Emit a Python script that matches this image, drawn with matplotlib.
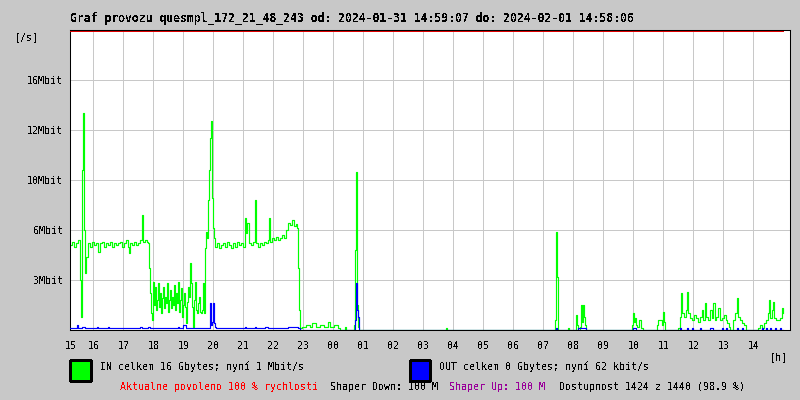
import numpy as np
import matplotlib
matplotlib.use("Agg")
import matplotlib.pyplot as plt
from matplotlib.patches import Rectangle

plt.rcParams['font.family'] = ['DejaVu Sans Mono']
plt.rcParams['text.antialiased'] = False

# ---------------- data ----------------
TITLE = "Graf provozu quesmpl_172_21_48_243 od: 2024-01-31 14:59:07 do: 2024-02-01 14:58:06"
SAMPLE_MIN = 2            # one sample every 2 minutes
START_MIN = 13.3          # first sample, minutes after 15:00

hour_labels = ["15", "16", "17", "18", "19", "20", "21", "22", "23", "00", "01", "02",
               "03", "04", "05", "06", "07", "08", "09", "10", "11", "12", "13", "14"]

y_ticks_mbit = [3, 6, 10, 12, 16]
y_tick_labels = ["3Mbit", "6Mbit", "10Mbit", "12Mbit", "16Mbit"]
# the chart's (non-linear) vertical scale: Mbit -> grid rows
scale_mbit = [0, 3, 6, 10, 12, 16, 20]
scale_rows = [0, 1, 2, 3, 4, 5, 6]

# IN traffic (green): sample index, Mbit/s
in_idx = [0, 2, 4, 6, 8, 10, 11, 12, 13, 14, 15, 16, 18, 20, 22, 24, 26, 28, 30, 32, 34, 36, 38,
          40, 42, 44, 46, 48, 50, 52, 54, 56, 58, 59, 60, 62, 64, 66, 68, 70, 72, 73, 75, 77, 78,
          79, 80,
          81, 82, 83, 84, 85, 86, 87, 88, 89, 90, 91, 92, 93, 94, 95, 96, 97, 98, 99, 100, 101,
          102, 103, 104, 105, 106, 107, 108, 109, 110, 111, 112, 113, 114, 115, 116, 117, 118,
          119, 120, 121, 122, 123, 124, 125, 126, 127, 128, 129, 130, 131, 132, 133, 134, 135,
          136, 137, 138, 139, 140, 141, 142, 143, 144, 145, 147, 149, 151, 153, 155, 157, 159,
          161, 163, 165, 167, 169, 171, 173, 175, 176, 177, 179, 181, 183, 185, 186, 188, 190,
          192, 194, 196, 198, 199, 200, 202, 204, 206, 208, 210, 212, 214, 216, 218, 220, 222,
          224, 226, 227, 228, 229, 230,
          232, 236, 240, 242, 246, 250, 254, 258, 260, 264, 268, 270, 275, 276, 284, 285, 286,
          287, 288, 289,
          376, 377, 485, 486, 487, 488, 498, 499, 506, 507, 508, 510, 511, 512, 513, 514, 515,
          516, 562, 563, 564, 565, 566, 567, 569, 571, 573, 587, 588, 590, 592, 593, 594, 595,
          608, 610, 611, 612, 614, 616, 617, 618, 620, 622, 624, 626, 628, 630, 632, 633, 635,
          636, 638, 640, 642, 643, 645, 646, 648, 650, 652, 654, 656, 657, 659, 660, 663, 665,
          667, 668, 670, 672, 674, 676, 688, 690, 692, 694, 696, 698, 699, 700, 702, 703, 704,
          706, 708, 710, 712, 713]
in_mbit = [5.1, 5.3, 5.0, 5.2, 5.4, 3.0, 0.8, 10.4, 13.4, 6.0, 3.4, 4.4, 5.2, 5.0, 5.3, 5.1, 5.2,
           4.7, 5.2, 5.3, 5.0, 5.2, 5.1, 5.3, 5.0, 5.2, 5.1, 5.2, 5.3, 5.0, 5.2, 5.4, 5.0, 4.6,
           5.2, 5.1, 5.3, 5.1, 5.2, 5.4, 7.2, 5.3, 5.4, 5.3, 5.2, 3.7, 2.2,
           1.0, 0.6, 2.9, 1.5, 2.6, 1.2, 1.8, 2.8, 1.4, 2.2, 1.0, 1.9, 2.6, 1.3, 2.0, 1.6, 2.8,
           1.1, 1.8, 2.4, 1.3, 2.0, 1.5, 2.7, 1.2, 2.2, 1.6, 2.9, 1.1, 1.8, 2.5, 0.8, 1.5, 2.2,
           1.4, 0.4, 1.7, 2.6, 2.0, 4.0, 2.8, 1.4, 0.2, 1.8, 2.9, 1.2, 1.0, 1.6, 2.0, 1.1, 1.0,
           1.2, 2.8, 1.0, 4.9,
           5.9, 5.5, 8.4, 10.4, 11.7, 12.7, 8.6, 6.2, 5.5, 5.0, 5.2, 4.9, 5.1, 5.2, 5.0, 5.3,
           5.1, 4.9, 5.2, 5.0, 5.3, 5.1, 5.2, 5.0, 7.0, 5.8, 6.6, 5.2, 5.1, 5.3, 8.4, 5.2, 5.0,
           5.2, 5.1, 5.3, 5.2, 5.4, 7.0, 5.3, 5.5, 5.4, 5.6, 5.4, 5.5, 5.7, 5.5, 6.0, 6.6, 6.4,
           6.8, 6.3, 6.5, 6.2, 3.7, 1.2, 0.1,
           0.2, 0.3, 0.2, 0.4, 0.2, 0.3, 0.2, 0.5, 0.2, 0.3, 0.1, 0.0, 0.2, 0.0, 0.3, 4.8, 10.3,
           1.5, 0.2, 0.0,
           0.1, 0.0, 0.6, 5.9, 3.2, 0.0, 0.1, 0.0, 0.9, 0.3, 0.0, 0.2, 1.5, 0.5, 1.5, 0.8, 0.3,
           0.0, 0.3, 1.0, 0.5, 0.7, 0.3, 0.2, 0.6, 0.1, 0.0, 0.3, 0.6, 0.6, 0.3, 1.1, 0.5, 0.0,
           0.1, 0.8, 2.2, 1.0, 0.8, 1.2, 2.3, 1.0, 0.7, 0.6, 0.9, 0.7, 0.5, 0.8, 1.2, 0.6, 1.6,
           0.8, 0.6, 1.2, 0.7, 1.6, 0.6, 0.8, 1.3, 0.6, 0.7, 0.9, 0.6, 0.4, 0.2, 0.0, 0.6, 1.0,
           1.9, 0.8, 0.6, 0.4, 0.3, 0.0, 0.1, 0.3, 0.1, 0.4, 0.6, 1.0, 1.8, 0.7, 1.2, 1.7, 0.7,
           0.6, 0.6, 0.7, 1.3, 1.0]

# OUT traffic (blue): sample index, Mbit/s
out_idx = [0, 7, 8, 12, 15, 27, 28, 38, 39, 70, 72, 78, 80, 108, 109, 113, 116, 140, 141, 142,
           143, 144, 145, 146, 175, 176, 185, 186, 195, 198, 218, 228, 230, 284, 285, 286, 287,
           288, 289, 486, 487, 508, 516, 563, 566, 610, 611, 617, 618, 622, 623, 630, 631, 640,
           643, 652, 653, 656, 657, 667, 668, 672, 673, 692, 693, 696, 697, 700, 701, 705, 706,
           710, 711, 713]
out_mbit = [0.1, 0.3, 0.1, 0.2, 0.1, 0.2, 0.1, 0.2, 0.1, 0.2, 0.1, 0.2, 0.1, 0.2, 0.1, 0.3, 0.1,
            1.6, 0.3, 0.5, 1.6, 0.4, 0.2, 0.1, 0.2, 0.1, 0.2, 0.1, 0.2, 0.1, 0.2, 0.1, 0.0, 0.0,
            0.6, 2.8, 1.2, 0.8, 0.0, 0.1, 0.0, 0.1, 0.0, 0.1, 0.0, 0.1, 0.0, 0.1, 0.0, 0.1, 0.0,
            0.1, 0.0, 0.1, 0.0, 0.1, 0.0, 0.1, 0.0, 0.1, 0.0, 0.1, 0.0, 0.1, 0.0, 0.1, 0.0, 0.1,
            0.0, 0.1, 0.0, 0.1, 0.0, 0.0]

legend_in = "IN celkem 16 Gbytes; nyní 1 Mbit/s"
legend_out = "OUT celkem 0 Gbytes; nyní 62 kbit/s"
status_red = "Aktualne povoleno 100 % rychlosti"
status_down = "Shaper Down: 100 M"
status_up = "Shaper Up: 100 M"
status_avail = "Dostupnost 1424 z 1440 (98.9 %)"

# ---------------- styling ----------------
BG = "#c8c8c8"
GRID = "#c8c8c8"
GREEN = "#00ff00"
BLUE = "#0000ff"
W, H = 800, 400

fig = plt.figure(figsize=(8, 4), dpi=100, facecolor=BG)
ax = fig.add_axes([70 / W, 70 / H, 720 / W, 300 / H])
ax.set_facecolor("white")

fwd = lambda v: np.interp(v, scale_mbit, scale_rows)
inv = lambda r: np.interp(r, scale_rows, scale_mbit)
ax.set_yscale("function", functions=(fwd, inv))

t_in = START_MIN + np.array(in_idx) * SAMPLE_MIN
t_out = START_MIN + np.array(out_idx) * SAMPLE_MIN
t_end = START_MIN + 1440

# grid
grid_x = [60 * k for k in range(1, 24)]
for gx in grid_x:
    ax.axvline(gx, color=GRID, lw=0.6, zorder=0.5, antialiased=False)
for gy in y_ticks_mbit:
    ax.axhline(gy, color=GRID, lw=0.6, zorder=0.5, antialiased=False)

ax.plot(t_in, in_mbit, drawstyle="steps-post", color=GREEN, lw=0.85, zorder=2)
ax.plot(t_out, out_mbit, drawstyle="steps-post", color=BLUE, lw=0.85, zorder=3)

# red limit line at the top
ax.plot([t_in[0], t_in[-1]], [19.95, 19.95], color="#dd0000", lw=0.6, zorder=4, antialiased=False)

ax.set_xlim(START_MIN, t_end)
ax.set_ylim(0, 20)

for s in ax.spines.values():
    s.set_color("black")
    s.set_linewidth(0.75)

tick_pos = [START_MIN + 1.7] + grid_x
ax.set_xticks(tick_pos)
ax.set_xticklabels(hour_labels, fontsize=7.2)
ax.set_yticks(y_ticks_mbit)
ax.set_yticklabels(y_tick_labels, fontsize=7.2)
ax.minorticks_off()
ax.tick_params(axis="both", length=0)
ax.tick_params(axis="x", pad=8)
ax.tick_params(axis="y", pad=5)

def ftext(x, y, s, **kw):
    fig.text(x / W, 1 - y / H, s, va="center", **kw)

ftext(70, 18, TITLE, fontsize=8.3, fontweight="bold")
ftext(15, 37, "[/s]", fontsize=7.2)
ftext(770, 357, "[h]", fontsize=7.2)

fig.patches.append(Rectangle((70 / W, 1 - 380.5 / H), 20.5 / W, 20.5 / H, transform=fig.transFigure,
                             facecolor=GREEN, edgecolor="black", lw=0.75, antialiased=False))
fig.patches.append(Rectangle((410 / W, 1 - 380.5 / H), 20.5 / W, 20.5 / H, transform=fig.transFigure,
                             facecolor=BLUE, edgecolor="black", lw=0.75, antialiased=False))
ftext(100, 367, legend_in, fontsize=7.2)
ftext(439, 367, legend_out, fontsize=7.2)

ftext(120, 387, status_red, fontsize=7.2, color="#ff0000")
ftext(330, 387, status_down, fontsize=7.2, color="black")
ftext(449, 387, status_up, fontsize=7.2, color="#990099")
ftext(559, 387, status_avail, fontsize=7.2, color="black")

fig.savefig("out.png", dpi=100, facecolor=BG)
